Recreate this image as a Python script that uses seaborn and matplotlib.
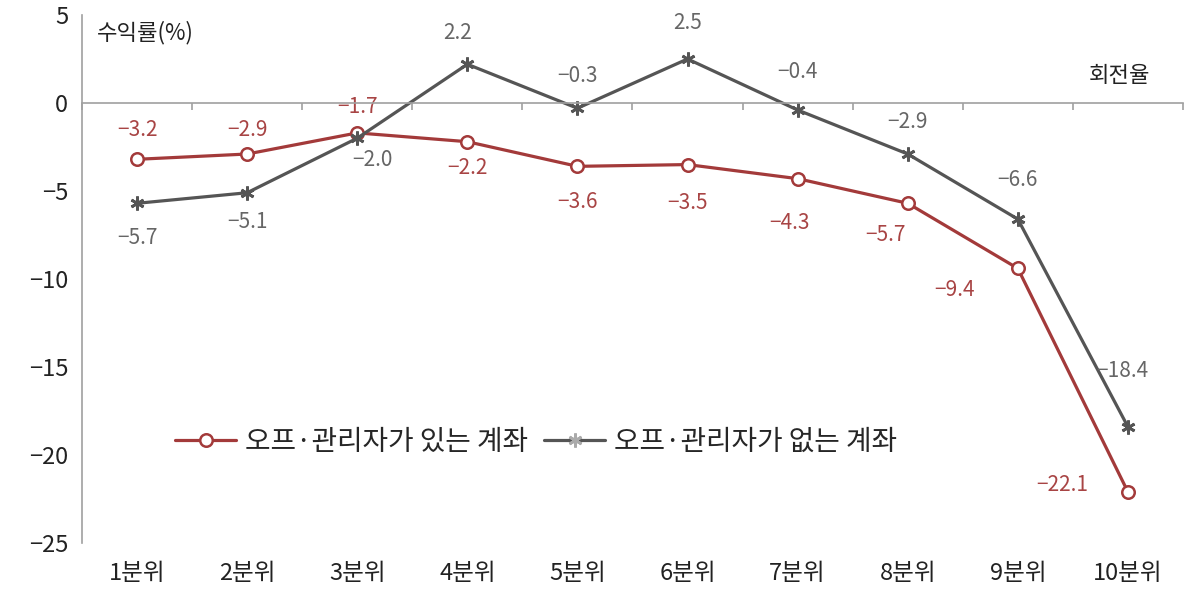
import pandas as pd
import matplotlib
matplotlib.use("Agg")
import matplotlib.pyplot as plt
import seaborn as sns

# data
categories = ["1분위", "2분위", "3분위", "4분위", "5분위", "6분위", "7분위", "8분위", "9분위", "10분위"]
with_manager = [-3.2, -2.9, -1.7, -2.2, -3.6, -3.5, -4.3, -5.7, -9.4, -22.1]
without_manager = [-5.7, -5.1, -2.0, 2.2, -0.3, 2.5, -0.4, -2.9, -6.6, -18.4]
label_with = "오프·관리자가 있는 계좌"
label_without = "오프·관리자가 없는 계좌"

# label offsets in pixels (dx, dy) relative to each point
offs_with = [(0, 29), (0, 24), (0, 26), (0, -26), (0, -36), (0, -38), (-8, -44), (-22, -32), (-63, -22), (-66, 7)]
offs_without = [(0, -35), (0, -29), (15, -22), (-10, 31), (0, 32), (0, 36), (0, 38), (0, 32), (0, 39), (-6, 56)]

RED = "#A33A3A"
RED_TXT = "#A84444"
GRAY = "#555555"
GRAY_TXT = "#666666"
AXIS = "#A0A0A0"

sns.set_style("white")
plt.rcParams["font.family"] = ["Noto Sans CJK KR", "DejaVu Sans"]

df = pd.DataFrame({
    "x": list(range(len(categories))) * 2,
    "value": with_manager + without_manager,
    "series": [label_with] * len(categories) + [label_without] * len(categories),
})

fig = plt.figure(figsize=(11.85, 5.92), dpi=100)
ax = fig.add_axes([0.0692, 0.0828, 0.9291, 0.8919])

sns.lineplot(data=df[df.series == label_with], x="x", y="value", ax=ax,
             color=RED, linewidth=2.3, marker="o", markersize=9,
             markerfacecolor="white", markeredgecolor=RED, markeredgewidth=1.8,
             label=label_with)
sns.lineplot(data=df[df.series == label_without], x="x", y="value", ax=ax,
             color=GRAY, linewidth=2.3, marker=(6, 2, 0), markersize=10,
             markeredgecolor=GRAY, markeredgewidth=2.0,
             label=label_without)

for i, v in enumerate(with_manager):
    dx, dy = offs_with[i]
    ax.annotate(f"{v:.1f}".replace("-", "\u2212"), (i, v), xytext=(dx, dy),
                textcoords="offset pixels", ha="center", va="center",
                fontsize=15, color=RED_TXT)
for i, v in enumerate(without_manager):
    dx, dy = offs_without[i]
    ax.annotate(f"{v:.1f}".replace("-", "\u2212"), (i, v), xytext=(dx, dy),
                textcoords="offset pixels", ha="center", va="center",
                fontsize=15, color=GRAY_TXT)

ax.set_xlim(-0.5, len(categories) - 0.5)
ax.set_ylim(-25, 5)
ax.set_yticks(range(-25, 6, 5))
ax.set_yticklabels([str(t).replace("-", "\u2212") for t in range(-25, 6, 5)])
ax.set_xticks(range(len(categories)))
ax.set_xticklabels(categories)
ax.set_xlabel("")
ax.set_ylabel("")

for s in ["top", "right", "bottom"]:
    ax.spines[s].set_visible(False)
ax.spines["left"].set_color(AXIS)
ax.spines["left"].set_linewidth(1.2)
ax.tick_params(axis="y", direction="out", length=5, color=AXIS, width=1.2,
               labelsize=17, pad=5, labelcolor="#222222")
ax.tick_params(axis="x", length=0, labelsize=17, pad=14, labelcolor="#222222")

# zero line with category boundary ticks
zero_pos = (0 - (-25)) / 30
ax2 = ax.twiny()
ax2.set_xlim(ax.get_xlim())
for s in ["top", "right", "left"]:
    ax2.spines[s].set_visible(False)
ax2.spines["bottom"].set_position(("axes", zero_pos))
ax2.spines["bottom"].set_color(AXIS)
ax2.spines["bottom"].set_linewidth(1.2)
ax2.xaxis.set_ticks_position("bottom")
ax2.set_xticks([i + 0.5 for i in range(-1, len(categories))])
ax2.tick_params(axis="x", direction="out", length=5, color=AXIS, width=1.2,
                labelbottom=False, labeltop=False)

ax.text(0.0136, 0.966, "수익률(%)", transform=ax.transAxes, fontsize=16,
        color="#222222", ha="left", va="center")
ax.text(0.970, 0.886, "회전율", transform=ax.transAxes, fontsize=16,
        color="#222222", ha="right", va="center")

leg = ax.legend(loc="center left", bbox_to_anchor=(0.062, 0.191), ncol=2, frameon=False,
                fontsize=20, handlelength=2.2, columnspacing=0.6, handletextpad=0.3)
leg.legend_handles[1].set_markeredgecolor("#AAAAAA")

fig.savefig("out.png", dpi=100)
